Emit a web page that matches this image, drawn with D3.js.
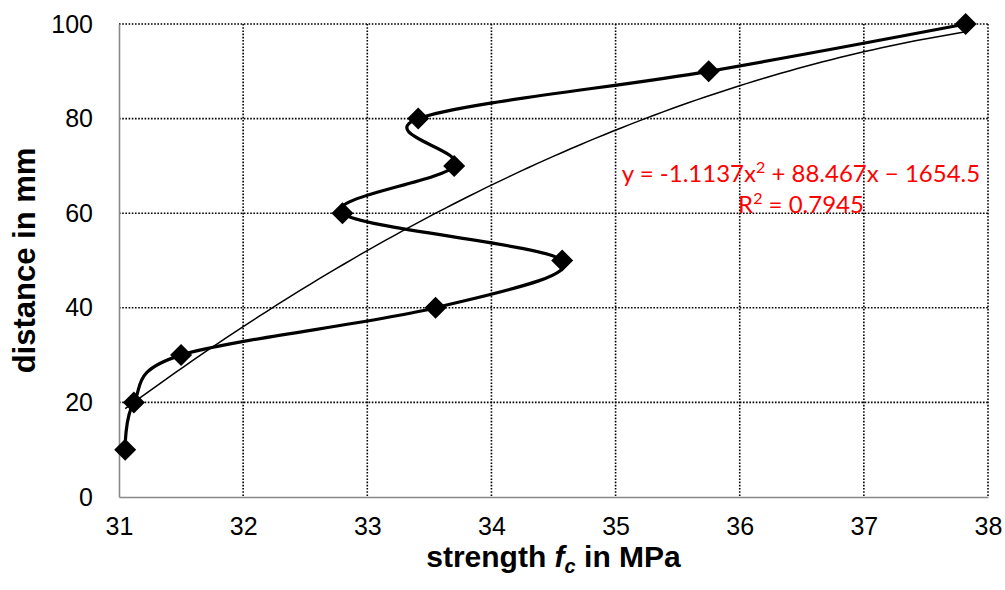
<!DOCTYPE html>
<html>
<head>
<meta charset="utf-8">
<script src="https://cdn.jsdelivr.net/npm/d3@7"></script>
<style>
  html, body { margin: 0; padding: 0; background: #fff; }
  svg { display: block; }
</style>
</head>
<body>
<div id="container"></div>
<script>
"use strict"

// measured profile: strength (MPa) vs distance (mm)
const strengthValues = [31.05, 31.12, 31.50, 33.55, 34.57, 32.80, 33.70, 33.41, 35.75, 37.82];
const distanceValues = [10, 20, 30, 40, 50, 60, 70, 80, 90, 100];
const xTicks = [31, 32, 33, 34, 35, 36, 37, 38];
const yTicks = [0, 20, 40, 60, 80, 100];
// Excel polynomial trendline (order 2), as printed on the chart
const trendCoefficients = [-1.1137, 88.467, -1654.5];
// label pieces: [text, isSuperscript]
const trendLabel = [
    [["y = -1.1137x", false], ["2", true], [" + 88.467x \u2212 1654.5", false]],
    [["R", false], ["2", true], [" = 0.7945", false]]
];

const width = 1005;
const height = 590;
const plotLeft = 119;
const plotRight = 988;
const plotTop = 24;
const plotBottom = 497;
const axisColor = "#898989";
const tickFont = "25px 'Liberation Sans', Arial, sans-serif";

const x = d3.scaleLinear().domain([31, 38]).range([plotLeft, plotRight]);
const y = d3.scaleLinear().domain([0, 100]).range([plotBottom, plotTop]);

const svg = d3.select("#container").append("svg")
    .attr("width", width)
    .attr("height", height);

svg.append("rect")
    .attr("width", width)
    .attr("height", height)
    .attr("fill", "#fff");


// dotted grid
const grid = svg.append("g")
    .attr("stroke", "#000")
    .attr("stroke-width", 1.6)
    .attr("stroke-dasharray", "1.6,1.6");

grid.selectAll(".hgrid")
    .data(yTicks.filter(d => d > 0))
    .enter()
    .append("line")
    .attr("class", "hgrid")
    .attr("x1", plotLeft)
    .attr("x2", plotRight)
    .attr("y1", d => y(d))
    .attr("y2", d => y(d));

grid.selectAll(".vgrid")
    .data(xTicks.filter(d => d > 31))
    .enter()
    .append("line")
    .attr("class", "vgrid")
    .attr("x1", d => x(d))
    .attr("x2", d => x(d))
    .attr("y1", plotTop)
    .attr("y2", plotBottom);


// axes
const xAxis = svg.append("g")
    .attr("transform", `translate(0,${plotBottom})`)
    .call(d3.axisBottom(x).tickValues(xTicks).tickSize(0).tickPadding(20).tickFormat(d3.format("d")));

const yAxis = svg.append("g")
    .attr("transform", `translate(${plotLeft},0)`)
    .call(d3.axisLeft(y).tickValues(yTicks).tickSize(0).tickPadding(26).tickFormat(d3.format("d")));

[xAxis, yAxis].forEach(axis => {
    axis.select(".domain")
        .attr("stroke", axisColor)
        .attr("stroke-width", 1.6);
    axis.selectAll("text")
        .attr("fill", "#000")
        .style("font", tickFont);
});


// trendline
const trendPoints = d3.range(0, 101).map(i => {
    const [lo, hi] = d3.extent(strengthValues);
    const xv = lo + (hi - lo) * i / 100;
    const [a, b, c] = trendCoefficients;
    return [xv, a * xv * xv + b * xv + c];
});

svg.append("path")
    .datum(trendPoints)
    .attr("fill", "none")
    .attr("stroke", "#000")
    .attr("stroke-width", 1.5)
    .attr("d", d3.line().x(d => x(d[0])).y(d => y(d[1])));


// smoothed data line
const points = strengthValues.map((s, i) => [s, distanceValues[i]]);

svg.append("path")
    .datum(points)
    .attr("fill", "none")
    .attr("stroke", "#000")
    .attr("stroke-width", 3.2)
    .attr("stroke-linejoin", "round")
    .attr("d", d3.line().x(d => x(d[0])).y(d => y(d[1])).curve(d3.curveCardinal.tension(0)));

// diamond markers
const diamond = d3.symbol().type(d3.symbolDiamond2).size(Math.pow(11 / 0.62625, 2));

svg.selectAll(".marker")
    .data(points)
    .enter()
    .append("path")
    .attr("class", "marker")
    .attr("transform", d => `translate(${x(d[0])},${y(d[1])})`)
    .attr("d", diamond)
    .attr("fill", "#000");


// trendline equation
const eqLines = svg.append("g")
    .selectAll("text")
    .data(trendLabel)
    .enter()
    .append("text")
    .attr("x", 801)
    .attr("y", (_, i) => 182 + i * 31)
    .attr("text-anchor", "middle")
    .attr("fill", "#ff0000")
    .style("font", "24px Lato, 'Open Sans', sans-serif");

eqLines.selectAll("tspan")
    .data(d => d)
    .enter()
    .append("tspan")
    .attr("dy", (d, i, nodes) => {
        if (d[1]) return -9;
        return (i > 0 && d3.select(nodes[i - 1]).datum()[1]) ? 9 : 0;
    })
    .style("font-size", d => d[1] ? "16px" : null)
    .text(d => d[0]);


// axis titles
const xTitle = svg.append("text")
    .attr("x", (plotLeft + plotRight) / 2)
    .attr("y", 567)
    .attr("text-anchor", "middle")
    .style("font", "bold 30px 'Liberation Sans', Arial, sans-serif");

xTitle.append("tspan").text("strength ");
xTitle.append("tspan").style("font-style", "italic").text("f");
xTitle.append("tspan")
    .style("font-style", "italic")
    .style("font-size", "20px")
    .attr("dy", 6)
    .text("c");
xTitle.append("tspan").attr("dy", -6).text(" in MPa");

svg.append("text")
    .attr("transform", `translate(35,${(plotTop + plotBottom) / 2}) rotate(-90)`)
    .attr("text-anchor", "middle")
    .style("font", "bold 31px 'Liberation Sans', Arial, sans-serif")
    .text("distance in mm");
</script>
</body>
</html>
